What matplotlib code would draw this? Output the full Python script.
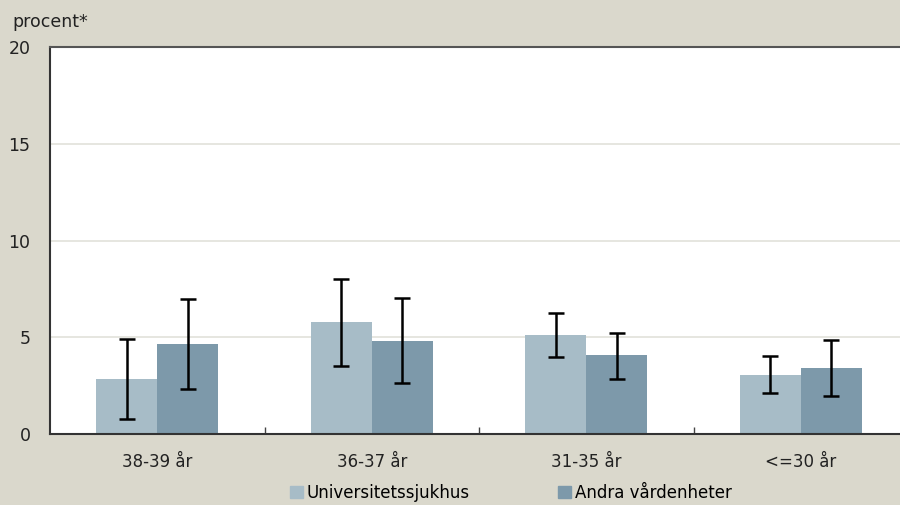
import numpy as np
import matplotlib.pyplot as plt
from matplotlib.patches import Patch

plt.rcParams['font.family'] = ['DejaVu Sans']

categories = ['38-39 år', '36-37 år', '31-35 år', '<=30 år']
series = ['Universitetssjukhus', 'Andra vårdenheter']
uni = [2.85, 5.8, 5.12, 3.07]
uni_lo = [0.75, 3.52, 3.98, 2.13]
uni_hi = [4.92, 8.02, 6.27, 4.04]
andra = [4.67, 4.83, 4.1, 3.43]
andra_lo = [2.35, 2.65, 2.86, 1.98]
andra_hi = [6.98, 7.04, 5.24, 4.87]

bg = '#dad8cc'
colors = ['#a7bcc7', '#7d99aa']

fig = plt.figure(figsize=(9, 5.05), dpi=100, facecolor=bg)
ax = fig.add_axes([50/900, 1 - 434/505, 850/900, 387/505])
ax.set_facecolor('white')

x = np.arange(len(categories))
w = 0.284
for vals, lo, hi, off, c in [(uni, uni_lo, uni_hi, -w/2, colors[0]),
                             (andra, andra_lo, andra_hi, w/2, colors[1])]:
    vals = np.array(vals)
    err = [vals - np.array(lo), np.array(hi) - vals]
    ax.bar(x + off, vals, w, color=c, zorder=2)
    ax.errorbar(x + off, vals, yerr=err, fmt='none', ecolor='black',
                elinewidth=1.8, capsize=6, capthick=1.8, zorder=3)

ax.set_ylim(0, 20)
ax.set_xlim(-0.5, -0.5 + 850/214.5)
ax.set_yticks([0, 5, 10, 15, 20])
ax.yaxis.grid(True, color='#e2e2da', linewidth=1.2, zorder=0)
ax.set_axisbelow(True)
ax.tick_params(axis='y', length=0, pad=14, labelsize=12.5, colors='#222222')
ax.set_xticks(x)
ax.set_xticklabels(categories)
ax.tick_params(axis='x', length=0, pad=14, labelsize=12, colors='#222222')
ax.set_xticks(np.arange(0.5, len(categories) - 0.5), minor=True)
ax.tick_params(axis='x', which='minor', direction='in', length=5, width=1, color='#444444')

for s in ['left', 'bottom', 'top']:
    ax.spines[s].set_color('#333333')
    ax.spines[s].set_linewidth(1.5)
ax.spines['top'].set_color('#555555')
ax.spines['right'].set_visible(False)

fig.text(12/900, 1 - 22/505, 'procent*', fontsize=12.5, color='#222222', va='center')

handles = [Patch(color=c) for c in colors]
fig.legend(handles, series, loc='center', bbox_to_anchor=(511/900, 1 - 493/505),
           ncol=2, frameon=False, fontsize=12, handlelength=0.75, handleheight=0.75,
           handletextpad=0.25, columnspacing=5.3)

fig.savefig('out.png', dpi=100, facecolor=bg)
